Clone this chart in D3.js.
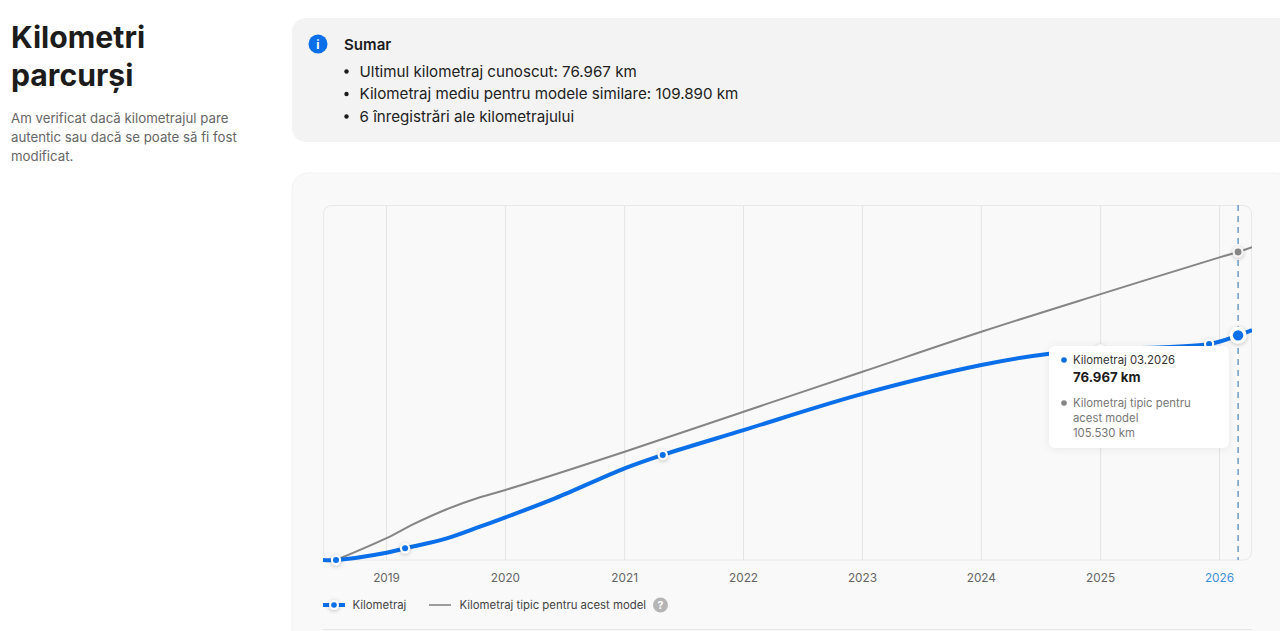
<!DOCTYPE html>
<html lang="ro">
	<head>
		<meta charset="utf-8">
		<title>Kilometri parcurși</title>
		<script type="text/javascript" src="https://cdn.jsdelivr.net/npm/d3@7"></script>
		<style type="text/css">
			html, body { margin: 0; padding: 0; background: #fff; overflow: hidden; }
			svg { display: block; }
			text { font-family: Inter, "Noto Sans", sans-serif; }
		</style>
	</head>
	<body>
		<script type="text/javascript">
			//Values
			var years = ["2019", "2020", "2021", "2022", "2023", "2024", "2025", "2026"];

			var kmDates = ["2018-06-20", "2018-07-30", "2019-01-01", "2019-02-27", "2019-07-05", "2019-10-15", "2020-01-01", "2020-06-01",
				"2021-01-01", "2021-04-28", "2022-01-01", "2023-01-01", "2024-01-01", "2024-07-22",
				"2025-01-01", "2025-11-30", "2026-02-27", "2026-04-11"];
			var kmValues = [0, 0, 2500, 4000, 7400, 11400, 14600, 21100, 31400, 36000, 44500, 56900, 66800, 70600,
				72100, 74000, 76967, 78800];

			var typicalDates = ["2018-07-30", "2019-01-01", "2019-03-23", "2019-07-05", "2019-10-15", "2020-01-01", "2021-01-01", "2022-01-01",
				"2023-01-01", "2024-01-01", "2025-01-01", "2026-01-01", "2026-02-27", "2026-04-11"];
			var typicalValues = [0, 7500, 12200, 17400, 21500, 24000, 37100, 50800, 64500, 78200, 91100, 103700, 105530, 107200];

			//Dates that have a real mileage record
			var recordDates = ["2018-07-30", "2019-02-27", "2021-04-28", "2025-01-01", "2025-11-30"];
			var currentDate = "2026-02-27";
			var currentKm = 76967;
			var currentTypical = 105530;

			var summaryItems = ["Ultimul kilometraj cunoscut: 76.967 km",
				"Kilometraj mediu pentru modele similare: 109.890 km",
				"6 înregistrări ale kilometrajului"];

			var blue = "#0a6fe8";
			var gray = "#858585";

			//Width and height
			var w = 1280;
			var h = 631;

			var parseDate = d3.utcParse("%Y-%m-%d");

			var xScale = d3.scaleUtc()
				.domain([parseDate("2019-01-01"), parseDate("2026-01-01")])
				.range([386.5, 1219.5]);
			var yScale = d3.scaleLinear()
				.domain([0, 105530])
				.range([560, 252]);

			var svg = d3.select("body")
				.append("svg")
				.attr("width", w)
				.attr("height", h);

			var defs = svg.append("defs");
			var soft = defs.append("filter").attr("id", "soft")
				.attr("x", "-30%").attr("y", "-30%").attr("width", "160%").attr("height", "160%");
			soft.append("feDropShadow")
				.attr("dx", 0).attr("dy", 1).attr("stdDeviation", 5)
				.attr("flood-color", "#000").attr("flood-opacity", 0.07);
			var dotShadow = defs.append("filter").attr("id", "dotShadow")
				.attr("x", "-100%").attr("y", "-100%").attr("width", "300%").attr("height", "300%");
			dotShadow.append("feDropShadow")
				.attr("dx", 0).attr("dy", 1).attr("stdDeviation", 2)
				.attr("flood-color", "#000").attr("flood-opacity", 0.25);
			defs.append("clipPath").attr("id", "plotClip")
				.append("rect").attr("x", 323).attr("y", 205).attr("width", 929).attr("height", 360);

			//Left column
			var title = svg.append("g").attr("font-size", 30.2).attr("font-weight", 700).attr("fill", "#1c1c1c");
			title.append("text").attr("x", 11).attr("y", 48).text("Kilometri");
			title.append("text").attr("x", 11).attr("y", 86).text("parcurși");

			svg.append("g").attr("font-size", 13.25).attr("fill", "#666")
				.selectAll("text")
				.data(["Am verificat dacă kilometrajul pare", "autentic sau dacă se poate să fi fost", "modificat."])
				.enter()
				.append("text")
				.attr("x", 11)
				.attr("y", function(d, i) { return 123 + i * 19; })
				.text(function(d) { return d; });

			//Summary box
			svg.append("rect")
				.attr("x", 292).attr("y", 18).attr("width", 1000).attr("height", 124)
				.attr("rx", 14).attr("fill", "#f3f3f3");
			svg.append("circle").attr("cx", 318).attr("cy", 44).attr("r", 9.5).attr("fill", blue);
			svg.append("text")
				.attr("x", 318).attr("y", 48.5).attr("text-anchor", "middle")
				.attr("font-size", 12).attr("font-weight", 700).attr("fill", "#fff")
				.text("i");
			svg.append("text")
				.attr("x", 344).attr("y", 50)
				.attr("font-size", 15.1).attr("font-weight", 600).attr("fill", "#1c1c1c")
				.text("Sumar");

			var items = svg.append("g").selectAll("g")
				.data(summaryItems)
				.enter()
				.append("g")
				.attr("transform", function(d, i) { return "translate(0," + (71 + i * 22.5) + ")"; });
			items.append("circle").attr("cx", 346.5).attr("cy", 0.5).attr("r", 2.2).attr("fill", "#1c1c1c");
			items.append("text")
				.attr("x", 359.5).attr("y", 5.5)
				.attr("font-size", 15.15).attr("fill", "#222")
				.text(function(d) { return d; });

			//Chart card
			svg.append("rect")
				.attr("x", 292).attr("y", 173).attr("width", 1000).attr("height", 480)
				.attr("rx", 16).attr("fill", "#f9f9f9").attr("stroke", "#f2f2f2");
			svg.append("rect")
				.attr("x", 323.5).attr("y", 205.5).attr("width", 928).attr("height", 354.5)
				.attr("rx", 8).attr("fill", "#f9f9f9").attr("stroke", "#e8e8e8");
			svg.append("line")
				.attr("x1", 323).attr("x2", 1252).attr("y1", 629.5).attr("y2", 629.5)
				.attr("stroke", "#e6e6e6");

			//X axis with full height gridlines
			var xAxis = d3.axisBottom(xScale)
				.tickValues(years.map(function(d) { return parseDate(d + "-01-01"); }))
				.tickSize(-354)
				.tickPadding(14)
				.offset(0)
				.tickFormat(d3.utcFormat("%Y"));
			var axisGroup = svg.append("g")
				.attr("transform", "translate(0,560)")
				.call(xAxis);
			axisGroup.select(".domain").remove();
			axisGroup.selectAll("line").attr("stroke", "#e4e4e4");
			axisGroup.selectAll("text")
				.attr("font-family", "Inter, sans-serif")
				.attr("font-size", 11.8)
				.attr("fill", function(d) { return d.getUTCFullYear() === 2026 ? "#3f8fdc" : "#666"; });

			//Lines
			var kmData = kmDates.map(function(d, i) { return { date: parseDate(d), km: kmValues[i] }; });
			var typicalData = typicalDates.map(function(d, i) { return { date: parseDate(d), km: typicalValues[i] }; });

			var line = d3.line()
				.x(function(d) { return xScale(d.date); })
				.y(function(d) { return yScale(d.km); })
				.curve(d3.curveCatmullRom.alpha(0.5));

			var plot = svg.append("g").attr("clip-path", "url(#plotClip)");
			plot.append("path")
				.datum(typicalData)
				.attr("d", line)
				.attr("fill", "none").attr("stroke", gray).attr("stroke-width", 2);
			plot.append("path")
				.datum(kmData)
				.attr("d", line)
				.attr("fill", "none").attr("stroke", blue).attr("stroke-width", 4);

			//Hover line for the selected month
			svg.append("line")
				.attr("x1", xScale(parseDate(currentDate))).attr("x2", xScale(parseDate(currentDate)))
				.attr("y1", 205).attr("y2", 560)
				.attr("stroke", "#3d7aae").attr("stroke-width", 1.1).attr("stroke-dasharray", "6 5");

			//Record markers
			var recordData = kmData.filter(function(d) {
				return recordDates.indexOf(d3.utcFormat("%Y-%m-%d")(d.date)) >= 0;
			});
			var markers = svg.selectAll("g.record")
				.data(recordData)
				.enter()
				.append("g")
				.attr("class", "record")
				.attr("transform", function(d) { return "translate(" + xScale(d.date) + "," + yScale(d.km) + ")"; });
			markers.append("circle").attr("r", 5.2).attr("fill", "#fff").attr("filter", "url(#dotShadow)");
			markers.append("circle").attr("r", 3).attr("fill", blue);

			//Current markers
			var cx = xScale(parseDate(currentDate));
			svg.append("circle").attr("cx", cx).attr("cy", yScale(currentTypical)).attr("r", 5.5)
				.attr("fill", "#f4f4f4").attr("filter", "url(#dotShadow)");
			svg.append("circle").attr("cx", cx).attr("cy", yScale(currentTypical)).attr("r", 3.4).attr("fill", gray);
			svg.append("circle").attr("cx", cx).attr("cy", yScale(currentKm)).attr("r", 8.5)
				.attr("fill", "#fff").attr("filter", "url(#dotShadow)");
			svg.append("circle").attr("cx", cx).attr("cy", yScale(currentKm)).attr("r", 5.2).attr("fill", blue);

			//Tooltip
			var tip = svg.append("g").attr("transform", "translate(1049,346)");
			tip.append("rect")
				.attr("width", 180).attr("height", 102).attr("rx", 6)
				.attr("fill", "#fff").attr("filter", "url(#soft)");
			tip.append("circle").attr("cx", 15).attr("cy", 14).attr("r", 2.8).attr("fill", blue);
			tip.append("text").attr("x", 24).attr("y", 18)
				.attr("font-size", 11.35).attr("fill", "#333").text("Kilometraj 03.2026");
			tip.append("text").attr("x", 24).attr("y", 36)
				.attr("font-size", 13.2).attr("font-weight", 700).attr("fill", "#1c1c1c")
				.text(d3.format(",")(currentKm).replace(",", ".") + " km");
			tip.append("circle").attr("cx", 15).attr("cy", 57).attr("r", 2.8).attr("fill", gray);
			tip.append("g").attr("font-size", 11.35).attr("fill", "#777")
				.selectAll("text")
				.data(["Kilometraj tipic pentru", "acest model", d3.format(",")(currentTypical).replace(",", ".") + " km"])
				.enter()
				.append("text")
				.attr("x", 24)
				.attr("y", function(d, i) { return 61 + i * 15; })
				.text(function(d) { return d; });

			//Legend
			var legend = svg.append("g").attr("transform", "translate(0,605)");
			legend.append("line")
				.attr("x1", 323).attr("x2", 345).attr("y1", 0).attr("y2", 0)
				.attr("stroke", blue).attr("stroke-width", 4);
			legend.append("circle").attr("cx", 334).attr("cy", 0).attr("r", 5).attr("fill", "#fff").attr("filter", "url(#dotShadow)");
			legend.append("circle").attr("cx", 334).attr("cy", 0).attr("r", 2.8).attr("fill", blue);
			legend.append("text").attr("x", 352.5).attr("y", 4)
				.attr("font-size", 11.36).attr("fill", "#444").text("Kilometraj");
			legend.append("line")
				.attr("x1", 429).attr("x2", 451).attr("y1", 0).attr("y2", 0)
				.attr("stroke", gray).attr("stroke-width", 1.6);
			legend.append("text").attr("x", 459.5).attr("y", 4)
				.attr("font-size", 11.36).attr("fill", "#444").text("Kilometraj tipic pentru acest model");
			legend.append("circle").attr("cx", 660.5).attr("cy", 0).attr("r", 7.5).attr("fill", "#b5b5b5");
			legend.append("text").attr("x", 660.5).attr("y", 4).attr("text-anchor", "middle")
				.attr("font-size", 10.5).attr("font-weight", 700).attr("fill", "#fff").text("?");
		</script>
	</body>
</html>
